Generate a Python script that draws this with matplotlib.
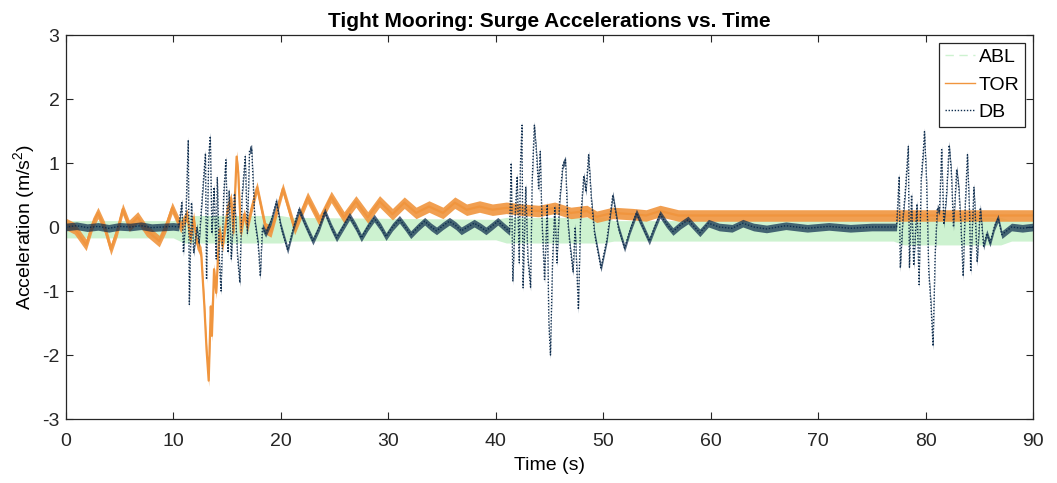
import numpy as np
import matplotlib
matplotlib.use("Agg")
import matplotlib.pyplot as plt
from matplotlib.lines import Line2D

# ---- data ----
# ABL: light band around zero (lower / upper envelope)
abl_t = [0, 10, 11, 20, 21, 40, 41, 50, 51, 77, 78, 87, 88, 90]
abl_lo = [-0.17, -0.17, -0.25, -0.25, -0.22, -0.2, -0.25, -0.25, -0.22, -0.22, -0.28, -0.28, -0.22, -0.22]
abl_hi = [0.1, 0.1, 0.18, 0.18, 0.15, 0.12, 0.15, 0.15, 0.1, 0.1, 0.15, 0.15, 0.1, 0.1]

# TOR: orange trace (centre of the noisy band)
tor_t = [0, 0.8, 1.9, 2.5, 3.0, 3.6, 4.2, 4.8, 5.3, 5.9, 6.7, 7.5, 8.7, 9.3, 9.9,
         10.7, 11.3, 11.6, 11.9, 12.2, 12.6, 12.9, 13.1, 13.3, 13.5, 13.6, 13.8, 14.0,
         14.3, 14.6, 15.1, 15.4, 15.6, 15.9, 16.05, 16.3, 16.6, 16.9, 17.3, 17.8, 18.6,
         19.1, 20.2, 21.3, 22.5, 23.6, 24.7, 25.9, 27.0, 28.1, 29.2, 30.4, 31.5, 32.6,
         33.8, 35.1, 36.2, 37.3, 38.5, 39.7, 41.0, 42.5, 44.0, 45.5, 47.0, 48.5, 49.4,
         50.9, 52.8, 54.0, 55.3, 57, 60, 65, 70, 75, 80, 85, 90]
tor_v = [0.05, -0.02, -0.28, 0.05, 0.22, 0.0, -0.35, -0.05, 0.28, 0.02, 0.15, -0.05, -0.22, 0.0, 0.3,
         0.0, 0.2, -0.2, 0.15, -0.25, -0.4, -1.24, -1.91, -2.4, -1.24, -1.7, -0.66, -1.03,
         -0.04, -0.3, 0.32, 0.45, -0.09, 1.1, 0.85, -0.09, 0.2, 0.0, 0.3, 0.62, -0.02,
         -0.07, 0.6, -0.03, 0.46, 0.1, 0.47, 0.15, 0.4, 0.15, 0.4, 0.2, 0.38, 0.22,
         0.32, 0.22, 0.38, 0.27, 0.32, 0.27, 0.3, 0.27, 0.25, 0.3, 0.22, 0.25, 0.16,
         0.22, 0.2, 0.18, 0.25, 0.18, 0.18, 0.18, 0.18, 0.18, 0.18, 0.18, 0.18]
tor_spread = 0.09

# DB: dark dotted trace
db_t = [0, 1, 2, 3, 4, 5, 6, 7, 8, 9, 10,
        10.5, 10.8, 10.95, 11.2, 11.4, 11.5, 11.7, 11.9, 12.2, 12.4, 12.7, 13.0, 13.1,
        13.3, 13.45, 13.6, 13.8, 14.0, 14.1, 14.3, 14.45, 14.7, 14.9, 15.1, 15.2, 15.4,
        15.7, 16.0, 16.2, 16.4, 16.7, 16.9, 17.1, 17.3, 17.6, 17.9, 18.1, 18.3, 18.6,
        19.1, 19.6, 20.0, 20.65,
        21.2, 21.7, 22.4, 23.0, 23.6, 24.1, 24.7, 25.2, 25.8, 26.4, 27.0, 27.5, 28.1,
        28.7, 29.3, 29.8, 30.4, 31.05, 31.6, 32.1, 32.8, 33.4, 34.0, 34.5, 35.1, 35.7,
        36.3, 36.8, 37.4, 38.0, 38.6, 39.1, 39.7, 40.2, 40.8, 41.3,
        41.45, 41.6, 41.8, 42.0, 42.2, 42.3, 42.45, 42.55, 42.8, 43.0, 43.25, 43.4, 43.6,
        43.8, 44.0, 44.15, 44.3, 44.55, 44.8, 44.95, 45.1, 45.3, 45.5, 45.7, 45.95, 46.25,
        46.5, 46.7, 46.9, 47.2, 47.4, 47.7, 47.9, 48.2, 48.4, 48.65, 48.9, 49.2, 49.8,
        50.35, 50.9, 51.4, 52.0, 52.5, 53.1, 53.7, 54.3, 54.8, 55.3, 55.9, 56.5, 57.2,
        57.9, 58.5, 59.0, 59.8, 60.8, 62.0, 63.0, 64.0, 65.2, 67, 69, 71, 73, 75, 77.3,
        77.55, 77.65, 77.9, 78.1, 78.4, 78.5, 78.7, 78.9, 79.2, 79.4, 79.6, 79.8, 79.9,
        80.1, 80.3, 80.5, 80.7, 80.9, 81.1, 81.3, 81.5, 81.7, 81.95, 82.2, 82.4, 82.6,
        82.9, 83.1, 83.3, 83.5, 83.7, 83.9, 84.1, 84.2, 84.5, 84.6, 84.8, 85.1, 85.4,
        85.7, 86.0, 86.4, 86.75, 87.1, 88, 89, 90]
db_v = [0.0, 0.02, -0.01, 0.01, -0.02, 0.01, 0.0, 0.02, -0.01, 0.0, 0.01,
        0.0, 0.38, -0.4, 0.29, 1.36, -1.21, 0.38, -0.4, 0.0, -0.26, 0.48, 1.15, -0.82,
        1.1, 1.42, -0.1, 0.62, -0.5, 0.78, -0.56, -1.0, 0.52, 1.05, -0.4, 0.57, -0.5,
        0.52, -0.5, -0.87, 0.48, 1.1, -0.1, 1.2, 1.23, 0.09, -0.26, -0.77, 0.0, -0.1,
        0.09, 0.4, 0.02, -0.36,
        0.0, 0.27, 0.0, -0.22, 0.0, 0.24, 0.0, -0.17, 0.0, 0.17, 0.0, -0.17, 0.0,
        0.14, 0.0, -0.15, 0.0, 0.12, 0.0, -0.12, 0.0, 0.09, 0.0, -0.06, 0.02, 0.09,
        0.02, -0.06, 0.0, 0.06, 0.0, -0.06, 0.02, 0.09, 0.0, -0.07,
        1.0, -0.85, 0.12, 0.79, -0.56, 0.94, 1.59, -0.95, 0.63, -0.5, -0.94, 0.73, 1.59,
        1.15, 0.6, 1.18, 0.15, -0.82, 0.35, -1.5, -2.0, -0.5, 0.3, -0.56, 0.4, 0.97,
        1.05, 0.12, -0.26, -0.7, 0.0, -1.29, 0.12, 0.8, 0.55, 1.13, 0.45, -0.1, -0.64,
        -0.2, 0.5, 0.0, -0.33, -0.05, 0.22, 0.0, -0.22, 0.0, 0.2, 0.05, -0.07, 0.03,
        0.11, 0.0, -0.09, 0.06, 0.0, -0.02, 0.06, 0.0, -0.03, 0.02, -0.02, 0.01, -0.02, 0.0, 0.0,
        0.79, -0.64, 0.15, 0.52, 1.26, -0.63, 0.5, -0.6, 0.36, -0.9, 0.77, 1.2, 1.49,
        0.7, -0.7, -1.2, -1.86, -0.4, 0.3, 0.25, 1.21, 0.04, 0.5, 1.28, 0.86, 0.0,
        0.9, 0.6, 0.0, -0.77, 0.36, 1.13, 0.2, -0.7, 0.62, 0.3, -0.55, 0.3, -0.3,
        -0.1, -0.25, 0.0, 0.14, -0.12, 0.0, -0.02, 0.0]
db_spread = 0.06

labels = ["ABL", "TOR", "DB"]
colors = ["#cdf2d0", "#f0953e", "#0e2d4e"]

plt.rcParams["font.family"] = ["Liberation Sans", "DejaVu Sans"]
plt.rcParams["mathtext.fontset"] = "custom"
plt.rcParams["mathtext.rm"] = "Liberation Sans"
plt.rcParams["mathtext.it"] = "Liberation Sans"
plt.rcParams["axes.unicode_minus"] = False

fig = plt.figure(figsize=(10.57, 4.83), dpi=100)
ax = fig.add_axes([0.0622, 0.1325, 0.9151, 0.795])

tor_t = np.array(tor_t)
tor_v = np.array(tor_v)
db_t = np.array(db_t)
db_v = np.array(db_v)

# ABL band
ax.fill_between(abl_t, abl_lo, abl_hi, color=colors[0], lw=0, zorder=1)

# TOR band + trace
ax.fill_between(tor_t, tor_v - tor_spread, tor_v + tor_spread, color=colors[1], lw=0, alpha=0.9, zorder=2)
ax.plot(tor_t, tor_v, color=colors[1], lw=1.6, zorder=2)

# DB band + dotted trace
ax.fill_between(db_t, db_v - db_spread, db_v + db_spread, color=colors[2], lw=0, alpha=0.72, zorder=3)
ax.plot(db_t, db_v, color=colors[2], lw=1.0, ls=(0, (1, 1.2)), zorder=3)

ax.set_xlim(0, 90)
ax.set_ylim(-3, 3)
ax.set_xticks(np.arange(0, 91, 10))
ax.set_yticks(np.arange(-3, 4, 1))
ax.tick_params(direction="in", top=True, right=True, labelsize=14, length=5, width=0.8,
               colors="#262626")
ax.tick_params(axis="x", pad=10)
ax.tick_params(axis="y", pad=4.5)
for sp in ax.spines.values():
    sp.set_color("#262626")
    sp.set_linewidth(0.9)

ax.set_xlabel("Time (s)", fontsize=14, labelpad=5)
ax.set_ylabel("Acceleration (m/s$^2$)", fontsize=14, labelpad=4)
ax.set_title("Tight Mooring: Surge Accelerations vs. Time", fontsize=15, fontweight="bold", pad=6)

handles = [
    Line2D([], [], color=colors[0], lw=1.0, ls=(0, (6, 4))),
    Line2D([], [], color=colors[1], lw=1.0),
    Line2D([], [], color=colors[2], lw=1.0, ls=(0, (1, 1.2))),
]
leg = ax.legend(handles, labels, loc="upper right", fontsize=14, frameon=True, fancybox=False,
                edgecolor="#262626", framealpha=1, handlelength=1.55, handletextpad=0.2,
                borderaxespad=0.4, labelspacing=0.5, borderpad=0.3)
leg.get_frame().set_linewidth(0.9)

fig.savefig("out.png", dpi=100)
